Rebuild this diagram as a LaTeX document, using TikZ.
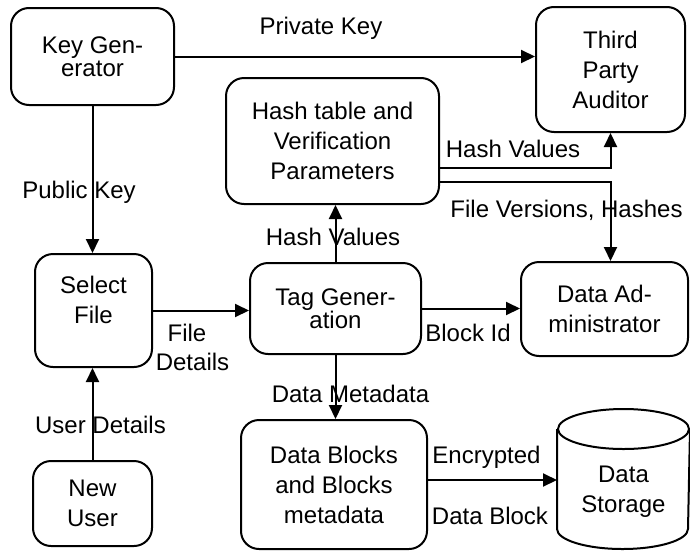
\documentclass[tikz,border=0pt]{standalone}
\usepackage{fontspec}
\setmainfont{Liberation Sans}
\usetikzlibrary{arrows.meta,positioning,calc}

\begin{document}
\begin{tikzpicture}[x=1pt,y=-1pt,->,>={Triangle[length=14pt,width=13pt]},
  line width=2pt,
  box/.style={draw,rounded corners=18pt,align=center,inner sep=0pt,
    font=\fontsize{24}{30}\selectfont},
  tight/.style={font=\fontsize{24}{23}\selectfont},
  lbl/.style={anchor=base,inner sep=0pt,font=\fontsize{24}{30}\selectfont}]
    \useasboundingbox (0,0) rectangle (690,552);
    % boxes
    \node[box,tight,minimum width=163pt,minimum height=97pt](keygen) at (92.5,56.5){Key Gen-\\erator};
    \node[box,minimum width=149pt,minimum height=125pt](tpa) at (610.5,69.5){Third\\Party\\Auditor};
    \node[box,minimum width=213pt,minimum height=126pt](hash) at (332.5,141){Hash table and\\Verification\\Parameters};
    \node[box,minimum width=117pt,minimum height=113pt](select) at (93.5,310.5){Select\\File\rule[-22pt]{0pt}{22pt}};
    \node[box,tight,minimum width=171pt,minimum height=91pt](tag) at (335.5,308.5){Tag Gener-\\ation};
    \node[box,minimum width=167pt,minimum height=94pt](admin) at (604.5,309){Data Ad-\\ministrator};
    \node[box,minimum width=186pt,minimum height=129pt](blocks) at (334,484.5){Data Blocks\\and Blocks\\metadata};
    \node[box,minimum width=119pt,minimum height=85pt](newuser) at (92.5,503.5){New\\User};
    % storage drum
    \node[inner sep=0pt,minimum width=131pt,minimum height=138pt](storage) at (623.5,479){};
    \draw[-] ([yshift=-20pt]storage.north) ellipse[x radius=65.5pt,y radius=20pt];
    \draw[-] ([yshift=-20pt]storage.north west) -- ([yshift=20pt]storage.south west)
      arc[start angle=180,end angle=360,x radius=65.5pt,y radius=20pt]
      -- ([yshift=-20pt]storage.north east);
    \node[box,draw=none,yshift=-13pt](storagetxt) at (storage.center){Data\\Storage};
    % flows
    \draw (keygen.east) -- (keygen.east -| tpa.west);
    \draw (keygen.south) -- (keygen.south |- select.north);
    \draw (newuser.north) -- (newuser.north |- select.south);
    \draw (select.east) -- (select.east -| tag.west);
    \draw (tag.north) -- (tag.north |- hash.south);
    \draw (tag.east) -- (tag.east -| admin.west);
    \draw (tag.south) -- (tag.south |- blocks.north);
    \draw ([yshift=-27pt]hash.east) -| (tpa.south);
    \draw ([yshift=-41pt]hash.east) -| (tpa.south |- admin.north);
    \draw ([yshift=4.5pt]blocks.east) -- ([yshift=4.5pt]blocks.east -| storage.west);
    % labels
    \node[lbl](lpriv) at (321,34){Private Key};
    \node[lbl](lpub) at (79,198){Public Key};
    \node[lbl](lhashup) at (333,245){Hash Values};
    \node[lbl](lhashtpa) at (513,157){Hash Values};
    \node[lbl](lversions) at (566.5,217){File Versions, Hashes};
    \node[lbl](lfile) at (187,341){File};
    \node[lbl](ldetails) at (192.5,370){Details};
    \node[lbl](luser) at (100.5,433){User Details};
    \node[lbl](lmeta) at (350.5,402){Data Metadata};
    \node[lbl](lblock) at (468,341){Block Id};
    \node[lbl](lenc) at (486.5,463){Encrypted};
    \node[lbl](ldblock) at (490,524){Data Block};
\end{tikzpicture}
\end{document}
